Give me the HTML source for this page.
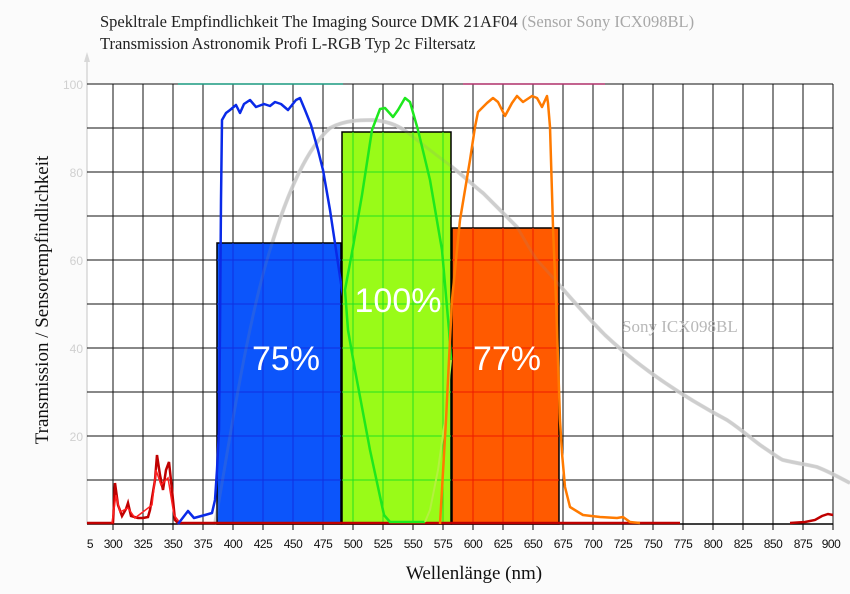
<!DOCTYPE html>
<html><head><meta charset="utf-8"><style>
html,body{margin:0;padding:0;background:#fbfbfb;}
svg{display:block}
</style></head><body>
<svg width="850" height="594" viewBox="0 0 850 594" xmlns="http://www.w3.org/2000/svg">
<rect x="0" y="0" width="850" height="594" fill="#fbfbfb"/>
<rect x="87" y="84" width="746" height="440" fill="#ffffff"/>
<defs>
<clipPath id="cb"><rect x="217" y="243" width="124" height="281"/></clipPath>
<clipPath id="cg"><rect x="342" y="132" width="109" height="392"/></clipPath>
<clipPath id="co"><rect x="452" y="228" width="107" height="296"/></clipPath>
<clipPath id="cleft"><rect x="0" y="0" width="342" height="594"/></clipPath>
<g id="grid">
<path d="M87 84H833M87 128H833M87 172H833M87 216H833M87 260H833M87 304H833M87 348H833M87 392H833M87 436H833M87 480H833
M113 84V524M143 84V524M173 84V524M203 84V524M233 84V524M263 84V524M293 84V524M323 84V524M353 84V524M383 84V524M413 84V524M443 84V524M473 84V524M503 84V524M533 84V524M563 84V524M593 84V524M623 84V524M653 84V524M683 84V524M713 84V524M743 84V524M773 84V524M803 84V524M833 84V524"/>
</g>
<path id="sens" d="M215 524 C225 470 245 330 270 250 C285 200 305 150 330 128 C345 120 360 120 373 120 C395 122 405 130 413 137 C430 150 440 158 447 163 C465 177 475 187 483 193 C500 210 510 220 517 227 C525 240 530 250 537 260 C560 285 580 310 605 335 C640 368 680 395 727 420 C745 432 755 442 763 447 C775 455 780 459 783 460 C800 464 810 465 817 467 C830 472 840 478 850 483" fill="none"/>
</defs>
<path d="M87 524V58" stroke="#d8d8d8" stroke-width="1.5"/>
<path d="M84 62L87 52L90 62Z" fill="#d8d8d8"/>
<use href="#grid" stroke="#111" stroke-width="1" fill="none"/>
<path d="M178 84H343" stroke="#1a9a80" stroke-width="1.5"/>
<path d="M463 84H605" stroke="#b0306a" stroke-width="1.5"/>
<path d="M87 524H833" stroke="#000" stroke-width="1.5"/>
<g stroke="#000" stroke-width="1">
<path d="M113 524v6M143 524v6M173 524v6M203 524v6M233 524v6M263 524v6M293 524v6M323 524v6M353 524v6M383 524v6M413 524v6M443 524v6M473 524v6M503 524v6M533 524v6M563 524v6M593 524v6M623 524v6M653 524v6M683 524v6M713 524v6M743 524v6M773 524v6M803 524v6M833 524v6"/>
</g>
<use href="#sens" stroke="#d6d6d6" stroke-width="4" opacity="0.85"/>
<rect x="217" y="243" width="124" height="281" fill="#0c55fb" stroke="#000" stroke-width="1.5"/>
<rect x="342" y="132" width="109" height="392" fill="#99fb18" stroke="#000" stroke-width="1.5"/>
<rect x="452" y="228" width="107" height="296" fill="#ff5a00" stroke="#000" stroke-width="1.5"/>
<use href="#grid" stroke="#1030e0" stroke-width="1" fill="none" clip-path="url(#cb)"/>
<use href="#grid" stroke="#22e020" stroke-width="1" fill="none" clip-path="url(#cg)"/>
<use href="#grid" stroke="#ee1a00" stroke-width="1" fill="none" clip-path="url(#co)"/>
<use href="#sens" stroke="#909090" stroke-width="3" opacity="0.18"/>
<polyline points="87,523 113,523 115,483 118,505 122,516 126,509 128,503 131,516 138,518 143,518 148,517 150,510 155,480 157,455 160,475 163,490 166,470 169,462 172,490 175,520 178,523 680,523" fill="none" stroke="#c00000" stroke-width="2.5"/>
<polyline points="112,523 116,495 120,512 128,508 135,518 152,505 156,470 161,485 168,478 174,515 180,523" fill="none" stroke="#ff2020" stroke-width="1.5"/>
<polyline points="790,523 805,522 815,520 822,516 828,514 833,515" fill="none" stroke="#c00000" stroke-width="2.5"/>
<polyline clip-path="url(#cleft)" points="178,524 188,511 194,518 205,515 212,513 215,500 217,470 219,430 220,330 221,200 222,120 226,113 230,110 236,105 240,113 244,104 250,100 256,107 264,104 270,106 275,102 281,104 288,110 296,100 300,98 305,110 311,125 318,150 323,170 330,210 336,250 342,290 350,330" fill="none" stroke="#0a2ae8" stroke-width="2.5" stroke-linejoin="round"/>
<polyline points="425,522 390,522 384,515 370,450 355,370 348,330 345,290 353,247 362,195 372,130 380,109 385,108 393,117 398,110 405,98 410,102 418,130 430,180 442,250 449,330 451,360" fill="none" stroke="#1ee81e" stroke-width="2.5" stroke-linejoin="round"/>
<polyline points="451,360 445,420 438,470 430,510 425,522" fill="none" stroke="#b4f040" stroke-width="2"/>
<polyline points="440,524 446,420 452,300 460,220 470,160 475,127 478,112 487,103 493,98 498,102 505,116 512,103 517,96 523,102 532,96 537,98 542,107 547,96 548,103 550,127 552,193 553,227 556,300 560,420 562,453 565,487 570,507 583,515 600,517 617,518 623,517 630,522 640,523" fill="none" stroke="#ff7a00" stroke-width="2.5" stroke-linejoin="round"/>
<g font-family="Liberation Sans, Arial, sans-serif" font-size="34" fill="#ffffff" text-anchor="middle">
<text x="286" y="370">75%</text>
<text x="398" y="312">100%</text>
<text x="507" y="370">77%</text>
</g>
<text x="622" y="332" font-family="Liberation Serif, serif" font-size="17" fill="#b8b8b8">Sony ICX098BL</text>
<g font-family="Liberation Serif, serif" font-size="16.5" fill="#222">
<text x="100" y="27">Spekltrale Empfindlichkeit  The Imaging Source DMK 21AF04 <tspan fill="#a8a8a8">(Sensor Sony ICX098BL)</tspan></text>
<text x="100" y="49">Transmission Astronomik Profi L-RGB Typ 2c Filtersatz</text>
</g>
<text transform="translate(48,300) rotate(-90)" text-anchor="middle" font-family="Liberation Serif, serif" font-size="19" fill="#111">Transmission / Sensorempfindlichkeit</text>
<text x="474" y="579" text-anchor="middle" font-family="Liberation Serif, serif" font-size="19" fill="#111">Wellenlänge (nm)</text>
<g font-family="Liberation Sans, sans-serif" font-size="12" fill="#d0d0d0" text-anchor="end">
<text x="83" y="89">100</text><text x="83" y="177">80</text><text x="83" y="265">60</text><text x="83" y="353">40</text><text x="83" y="441">20</text>
</g>
<g font-family="Liberation Sans, sans-serif" font-size="12" fill="#111" text-anchor="middle" letter-spacing="-0.5">
<text x="90" y="548">5</text>
<text x="113" y="548">300</text><text x="143" y="548">325</text><text x="173" y="548">350</text><text x="203" y="548">375</text><text x="233" y="548">400</text><text x="263" y="548">425</text><text x="293" y="548">450</text><text x="323" y="548">475</text><text x="353" y="548">500</text><text x="383" y="548">525</text><text x="413" y="548">550</text><text x="443" y="548">575</text><text x="473" y="548">600</text><text x="503" y="548">625</text><text x="533" y="548">650</text><text x="563" y="548">675</text><text x="593" y="548">700</text><text x="623" y="548">725</text><text x="653" y="548">750</text><text x="683" y="548">775</text><text x="713" y="548">800</text><text x="743" y="548">825</text><text x="773" y="548">850</text><text x="803" y="548">875</text><text x="831" y="548">900</text>
</g>
</svg>
</body></html>
